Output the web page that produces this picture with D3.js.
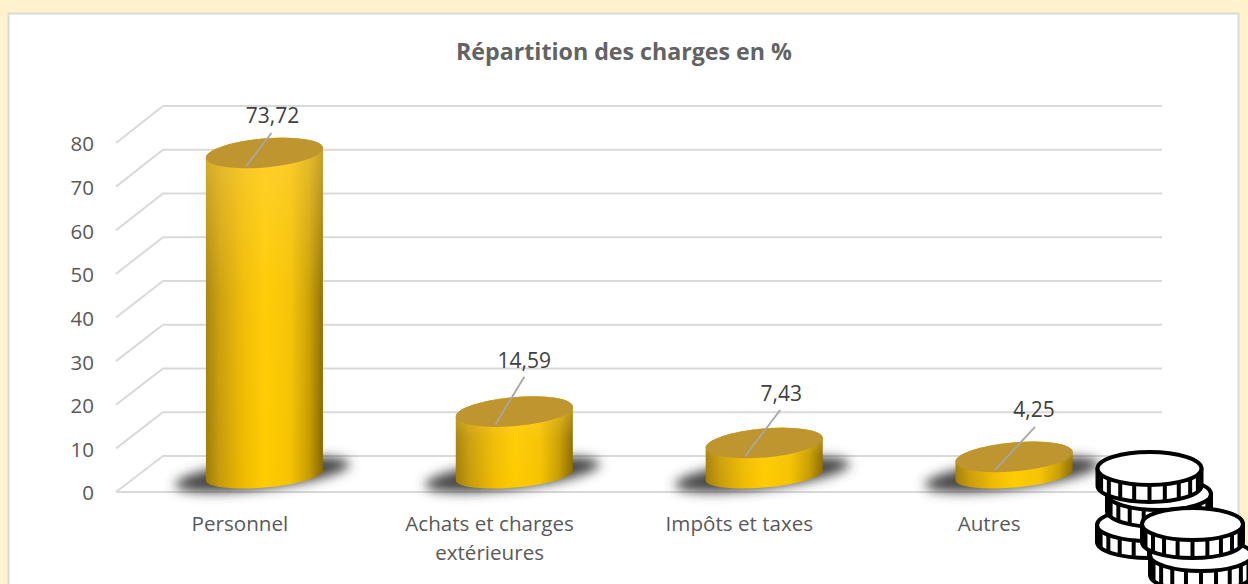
<!DOCTYPE html>
<html lang="fr"><head><meta charset="utf-8">
<script src="https://cdn.jsdelivr.net/npm/d3@7"></script>
<style>html,body{margin:0;padding:0;background:#fff2cc;overflow:hidden}svg{display:block}text{font-family:"Open Sans",sans-serif}</style>
</head><body><div id="c"></div>
<script>
const titleText = "Répartition des charges en %";
const categories = ["Personnel", "Achats et charges|extérieures", "Impôts et taxes", "Autres"];
const values = [73.72, 14.59, 7.43, 4.25];
const valueLabels = ["73,72", "14,59", "7,43", "4,25"];
const tickValues = [0, 10, 20, 30, 40, 50, 60, 70, 80];

const W = 1248, H = 584;
const svg = d3.select("#c").append("svg").attr("width", W).attr("height", H);
const defs = svg.append("defs");

// Background panel
svg.append("rect").attr("x", 8.5).attr("y", 13.5).attr("width", 1230).attr("height", 600)
  .attr("fill", "#fff").attr("stroke", "#d9d9d9").attr("stroke-width", 2);

svg.append("text").attr("x", 624).attr("y", 60).attr("text-anchor", "middle")
  .attr("font-size", 23.2).attr("font-weight", 700).attr("fill", "#636363").text(titleText);

// Scales: front plane, back wall, bar plane
const yFront = d3.scaleLinear().domain([0, 80]).range([492, 143]);
const yBack = d3.scaleLinear().domain([0, 80]).range([456, 106]);
const yBar = d3.scaleLinear().domain([0, 80]).range([475.5, 125.5]);
const xFront = d3.scaleBand().domain(categories).range([116, 1115]);
const xBar = d3.scaleBand().domain(categories).range([139.5, 1139]);

// Grid
const grid = svg.append("g").attr("fill", "none").attr("stroke", "#d9d9d9").attr("stroke-width", 2);
grid.selectAll("path").data(tickValues).join("path")
  .attr("d", d => `M116,${yFront(d)}L163,${yBack(d)}H1162`);
grid.append("path").attr("d", `M116,${yFront(0)}H1115L1162,${yBack(0)}`);

// Value axis labels
svg.append("g").selectAll("text").data(tickValues).join("text")
  .attr("x", 94).attr("y", d => yFront(d) + 1).attr("dy", "0.36em").attr("text-anchor", "end")
  .attr("font-size", 20.5).attr("fill", "#595959").text(d => d);

// Category labels
const catG = svg.append("g").selectAll("text").data(categories).join("text")
  .attr("text-anchor", "middle").attr("font-size", 20.6).attr("fill", "#595959");
catG.each(function (c) {
  d3.select(this).selectAll("tspan").data(c.split("|")).join("tspan")
    .attr("x", xFront(c) + xFront.bandwidth() / 2 - 1)
    .attr("y", (_, i) => 531 + i * 29).text(t => t);
});

// Gradients
const hg = defs.append("linearGradient").attr("id", "side");
[[0, "#a07c08"], [.12, "#c79b0a"], [.32, "#eebb00"], [.5, "#ffcc00"], [.72, "#f5c300"], [.88, "#c79c00"], [1, "#846600"]]
  .forEach(s => hg.append("stop").attr("offset", s[0]).attr("stop-color", s[1]));
const vg = defs.append("linearGradient").attr("id", "glow").attr("x1", 0).attr("x2", 0).attr("y1", 0).attr("y2", 1);
[[0, "#ffd24a", .6], [.45, "#ffd24a", .12], [1, "#ffd24a", 0]]
  .forEach(s => vg.append("stop").attr("offset", s[0]).attr("stop-color", s[1]).attr("stop-opacity", s[2]));
defs.append("filter").attr("id", "blur").attr("x", "-30%").attr("y", "-80%").attr("width", "160%").attr("height", "260%")
  .append("feGaussianBlur").attr("stdDeviation", 6);

// Cylinders
const rx = 58.5, ry = 14.5, ryBase = 12, tilt = -5, dyTilt = 5;
const bars = svg.append("g").selectAll("g").data(values).join("g");
bars.each(function (v, i) {
  const g = d3.select(this);
  const cx = xBar(categories[i]) + xBar.bandwidth() / 2;
  const top = yBar(v), base = yBar(0);
  g.append("ellipse").attr("cx", cx - 2).attr("cy", base - 1).attr("rx", 88).attr("ry", 14)
    .attr("transform", `rotate(-7 ${cx - 2} ${base - 1})`)
    .attr("fill", "#444").attr("filter", "url(#blur)");
  const a = `A${rx} ${ry} ${tilt} 0 0 `;
  const b = `A${rx} ${ryBase} ${tilt} 0 0 `;
  const side = `M${cx - rx},${top + dyTilt}L${cx - rx},${base + dyTilt}${b}${cx + rx},${base - dyTilt}L${cx + rx},${top - dyTilt}${a}${cx - rx},${top + dyTilt}Z`;
  g.append("path").attr("d", side).attr("fill", "url(#side)");
  g.append("path").attr("d", side).attr("fill", "url(#glow)");
  g.append("ellipse").attr("cx", cx).attr("cy", top).attr("rx", rx + .3).attr("ry", ry)
    .attr("transform", `rotate(${tilt} ${cx} ${top})`).attr("fill", "#bf9530");
});

// Data labels with leader lines (offsets from the bar top centre)
const labelAnchors = [[8, -38], [10, -51], [17, -50], [20, -47]];
const leaderStart = [[7, -20], [10, -35], [16, -33], [21, -30]];
const leaderEnd = [[-19, 14], [-19, 13], [-19, 13], [-19, 13]];
const labels = svg.append("g");
values.forEach((v, i) => {
  const cx = xBar(categories[i]) + xBar.bandwidth() / 2, top = yBar(v);
  labels.append("line")
    .attr("x1", cx + leaderStart[i][0]).attr("y1", top + leaderStart[i][1])
    .attr("x2", cx + leaderEnd[i][0]).attr("y2", top + leaderEnd[i][1])
    .attr("stroke", "#a6a6a6").attr("stroke-width", 1.8);
  labels.append("text").attr("x", cx + labelAnchors[i][0]).attr("y", top + labelAnchors[i][1])
    .attr("dy", "0.36em").attr("text-anchor", "middle")
    .attr("font-size", 21).attr("fill", "#404040").text(valueLabels[i]);
});

// Coin icon (decoration)
const coins = [[1149, 525, 52, 16, 21], [1159, 494, 52, 16, 21], [1149.5, 468.5, 52, 16.5, 21], [1201, 555, 51, 16, 24], [1192.5, 524, 50.5, 16, 22]];
const ic = svg.append("g").attr("stroke", "#000").attr("stroke-width", 4).attr("fill", "#fff").attr("stroke-linejoin", "round");
coins.forEach(([cx, cy, r, s, h]) => {
  const c = ic.append("g");
  c.append("path").attr("d", `M${cx - r},${cy}V${cy + h - 4}A${r} ${s} 0 0 0 ${cx + r},${cy + h - 4}V${cy}Z`);
  d3.range(-4, 5).forEach(k => {
    const px = cx + r * Math.sin(k * Math.PI / 10.5);
    const py = cy + s * Math.cos(k * Math.PI / 10.5);
    c.append("line").attr("x1", px).attr("x2", px).attr("y1", py).attr("y2", py + h - 4);
  });
  c.append("ellipse").attr("cx", cx).attr("cy", cy).attr("rx", r).attr("ry", s);
});
</script></body></html>
